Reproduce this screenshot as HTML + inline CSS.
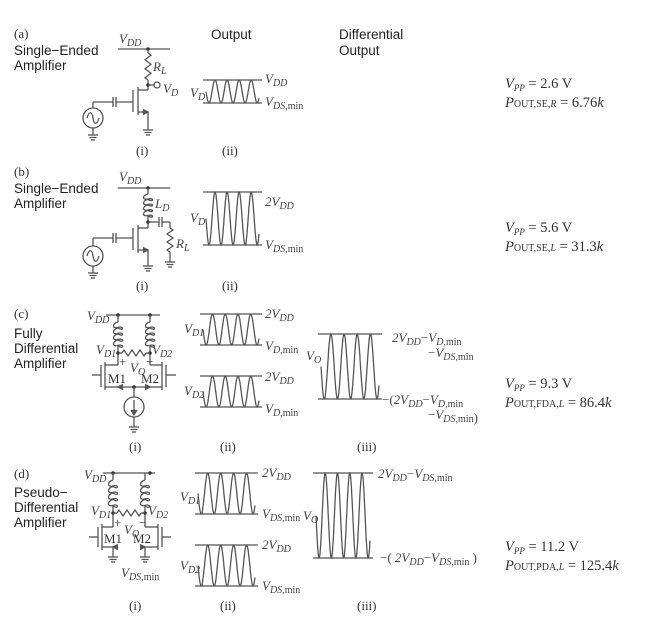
<!DOCTYPE html>
<html><head><meta charset="utf-8"><style>
html,body{margin:0;padding:0;background:#fff;}
svg{display:block;}
.s{font-family:"Liberation Sans",sans-serif;font-size:13.5px;fill:#222;}
.r{font-family:"Liberation Serif",serif;font-size:13px;fill:#333;}
.i{font-family:"Liberation Serif",serif;font-style:italic;font-size:13px;fill:#444;}
.b{font-family:"Liberation Serif",serif;font-size:14.5px;fill:#333;}
</style></head><body>
<svg id="sv" width="654" height="621" viewBox="0 0 654 621" xmlns="http://www.w3.org/2000/svg">
<g id="shapes" fill="none" stroke="#555" stroke-width="1.3"></g>
<!-- text -->
<text class="r" x="14" y="38">(a)</text>
<text class="s" x="14" y="55">Single−Ended</text>
<text class="s" x="14" y="70">Amplifier</text>
<text class="s" x="211" y="39">Output</text>
<text class="s" x="339" y="39">Differential</text>
<text class="s" x="339" y="55">Output</text>

<text class="i" x="119" y="43">V<tspan font-size="10" dy="3">DD</tspan></text>
<text class="i" x="153" y="71">R<tspan font-size="10" dy="3">L</tspan></text>
<text class="i" x="163" y="93">V<tspan font-size="10" dy="3">D</tspan></text>
<text class="i" x="190" y="97">V<tspan font-size="10" dy="3">D</tspan></text>
<text class="i" x="265" y="83">V<tspan font-size="10" dy="3">DD</tspan></text>
<text class="i" x="265" y="106">V<tspan font-size="10" dy="3">DS,</tspan><tspan font-style="normal" font-size="10">min</tspan></text>
<text class="r" x="136" y="155">(i)</text>
<text class="r" x="222" y="155">(ii)</text>

<text class="r" x="14" y="176">(b)</text>
<text class="s" x="14" y="193">Single−Ended</text>
<text class="s" x="14" y="208">Amplifier</text>
<text class="i" x="119" y="181">V<tspan font-size="10" dy="3">DD</tspan></text>
<text class="i" x="155" y="208">L<tspan font-size="10" dy="3">D</tspan></text>
<text class="i" x="176" y="248">R<tspan font-size="10" dy="3">L</tspan></text>
<text class="i" x="190" y="222">V<tspan font-size="10" dy="3">D</tspan></text>
<text class="i" x="265" y="206">2V<tspan font-size="10" dy="3">DD</tspan></text>
<text class="i" x="265" y="249">V<tspan font-size="10" dy="3">DS,</tspan><tspan font-style="normal" font-size="10">min</tspan></text>
<text class="r" x="136" y="290">(i)</text>
<text class="r" x="222" y="290">(ii)</text>

<text class="r" x="14" y="318">(c)</text>
<text class="s" x="14" y="338">Fully</text>
<text class="s" x="14" y="353">Differential</text>
<text class="s" x="14" y="368">Amplifier</text>
<text class="i" x="87" y="320">V<tspan font-size="10" dy="3">DD</tspan></text>
<text class="i" x="96" y="354">V<tspan font-size="10" dy="3">D1</tspan></text>
<text class="i" x="152" y="354">V<tspan font-size="10" dy="3">D2</tspan></text>
<text class="r" x="119" y="366" font-size="11">+</text>
<text class="r" x="146" y="366" font-size="11">−</text>
<text class="i" x="130" y="372">V<tspan font-size="10" dy="3">O</tspan></text>
<text class="r" x="108" y="383" font-size="11">M1</text>
<text class="r" x="141" y="383" font-size="11">M2</text>
<text class="i" x="184" y="333">V<tspan font-size="10" dy="3">D1</tspan></text>
<text class="i" x="184" y="395">V<tspan font-size="10" dy="3">D2</tspan></text>
<text class="i" x="265" y="318">2V<tspan font-size="10" dy="3">DD</tspan></text>
<text class="i" x="265" y="350">V<tspan font-size="10" dy="3">D,</tspan><tspan font-style="normal" font-size="10">min</tspan></text>
<text class="i" x="265" y="381">2V<tspan font-size="10" dy="3">DD</tspan></text>
<text class="i" x="265" y="413">V<tspan font-size="10" dy="3">D,</tspan><tspan font-style="normal" font-size="10">min</tspan></text>
<text class="i" x="306" y="360">V<tspan font-size="10" dy="3">O</tspan></text>
<text class="i" x="392" y="342">2V<tspan font-size="10" dy="3">DD</tspan><tspan dy="-3" font-style="normal">−</tspan>V<tspan font-size="10" dy="3">D,</tspan><tspan font-style="normal" font-size="10">min</tspan></text>
<text class="i" x="428" y="357"><tspan font-style="normal">−</tspan>V<tspan font-size="10" dy="3">DS,</tspan><tspan font-style="normal" font-size="10">min</tspan></text>
<text class="i" x="382" y="404"><tspan font-style="normal">−(</tspan>2V<tspan font-size="10" dy="3">DD</tspan><tspan dy="-3" font-style="normal">−</tspan>V<tspan font-size="10" dy="3">D,</tspan><tspan font-style="normal" font-size="10">min</tspan></text>
<text class="i" x="428" y="419"><tspan font-style="normal">−</tspan>V<tspan font-size="10" dy="3">DS,</tspan><tspan font-style="normal" font-size="10">min</tspan><tspan font-style="normal">)</tspan></text>
<text class="r" x="129" y="451">(i)</text>
<text class="r" x="220" y="451">(ii)</text>
<text class="r" x="357" y="451">(iii)</text>

<text class="r" x="14" y="478">(d)</text>
<text class="s" x="14" y="497">Pseudo−</text>
<text class="s" x="14" y="512">Differential</text>
<text class="s" x="14" y="527">Amplifier</text>
<text class="i" x="84" y="479">V<tspan font-size="10" dy="3">DD</tspan></text>
<text class="i" x="91" y="515">V<tspan font-size="10" dy="3">D1</tspan></text>
<text class="i" x="148" y="515">V<tspan font-size="10" dy="3">D2</tspan></text>
<text class="r" x="114" y="527" font-size="11">+</text>
<text class="r" x="139" y="527" font-size="11">−</text>
<text class="i" x="124" y="534">V<tspan font-size="10" dy="3">O</tspan></text>
<text class="r" x="104" y="543" font-size="11">M1</text>
<text class="r" x="133" y="543" font-size="11">M2</text>
<text class="i" x="121" y="577">V<tspan font-size="10" dy="3">DS,</tspan><tspan font-style="normal" font-size="10">min</tspan></text>
<text class="i" x="180" y="501">V<tspan font-size="10" dy="3">D1</tspan></text>
<text class="i" x="180" y="570">V<tspan font-size="10" dy="3">D2</tspan></text>
<text class="i" x="262" y="477">2V<tspan font-size="10" dy="3">DD</tspan></text>
<text class="i" x="262" y="518">V<tspan font-size="10" dy="3">DS,</tspan><tspan font-style="normal" font-size="10">min</tspan></text>
<text class="i" x="262" y="549">2V<tspan font-size="10" dy="3">DD</tspan></text>
<text class="i" x="262" y="590">V<tspan font-size="10" dy="3">DS,</tspan><tspan font-style="normal" font-size="10">min</tspan></text>
<text class="i" x="303" y="520">V<tspan font-size="10" dy="3">O</tspan></text>
<text class="i" x="378" y="478">2V<tspan font-size="10" dy="3">DD</tspan><tspan dy="-3" font-style="normal">−</tspan>V<tspan font-size="10" dy="3">DS,</tspan><tspan font-style="normal" font-size="10">min</tspan></text>
<text class="i" x="380" y="562"><tspan font-style="normal">−( </tspan>2V<tspan font-size="10" dy="3">DD</tspan><tspan dy="-3" font-style="normal">−</tspan>V<tspan font-size="10" dy="3">DS,</tspan><tspan font-style="normal" font-size="10">min</tspan><tspan font-style="normal" dy="-3"> )</tspan></text>
<text class="r" x="129" y="610">(i)</text>
<text class="r" x="220" y="610">(ii)</text>
<text class="r" x="357" y="610">(iii)</text>

<text class="b" x="505" y="88"><tspan font-style="italic">V</tspan><tspan font-size="9" dy="3" font-style="italic">PP</tspan><tspan dy="-3"> = 2.6 V</tspan></text>
<text class="b" x="505" y="107"><tspan font-style="italic">P</tspan><tspan font-size="10">OUT,SE,</tspan><tspan font-size="10" font-style="italic">R</tspan> = 6.76<tspan font-style="italic">k</tspan></text>
<text class="b" x="505" y="232"><tspan font-style="italic">V</tspan><tspan font-size="9" dy="3" font-style="italic">PP</tspan><tspan dy="-3"> = 5.6 V</tspan></text>
<text class="b" x="505" y="251"><tspan font-style="italic">P</tspan><tspan font-size="10">OUT,SE,</tspan><tspan font-size="10" font-style="italic">L</tspan> = 31.3<tspan font-style="italic">k</tspan></text>
<text class="b" x="505" y="388"><tspan font-style="italic">V</tspan><tspan font-size="9" dy="3" font-style="italic">PP</tspan><tspan dy="-3"> = 9.3 V</tspan></text>
<text class="b" x="505" y="407"><tspan font-style="italic">P</tspan><tspan font-size="10">OUT,FDA,</tspan><tspan font-size="10" font-style="italic">L</tspan> = 86.4<tspan font-style="italic">k</tspan></text>
<text class="b" x="505" y="551"><tspan font-style="italic">V</tspan><tspan font-size="9" dy="3" font-style="italic">PP</tspan><tspan dy="-3"> = 11.2 V</tspan></text>
<text class="b" x="505" y="570"><tspan font-style="italic">P</tspan><tspan font-size="10">OUT,PDA,</tspan><tspan font-size="10" font-style="italic">L</tspan> = 125.4<tspan font-style="italic">k</tspan></text>
</svg>
<script>
var g=document.getElementById('shapes'),NS='http://www.w3.org/2000/svg',out='';
function P(d,extra){out+='<path d="'+d+'" '+(extra||'')+'/>';}
function L(x1,y1,x2,y2){P('M'+x1+' '+y1+'L'+x2+' '+y2);}
function dot(x,y){out+='<circle cx="'+x+'" cy="'+y+'" r="1.8" fill="#333" stroke="none"/>';}
function circ(x,y,r){out+='<circle cx="'+x+'" cy="'+y+'" r="'+r+'"/>';}
function gnd(x,y){L(x,y-6,x,y);L(x-5,y,x+5,y);L(x-3.5,y+2.5,x+3.5,y+2.5);L(x-2,y+5,x+2,y+5);}
function res(x,y1,y2){var d='M'+x+' '+y1,n=6,h=(y2-y1)/n;for(var i=0;i<n;i++){d+='L'+(x+(i%2?-3:3))+' '+(y1+h*(i+0.5));}d+='L'+x+' '+y2;P(d);}
function hres(x1,x2,y){var d='M'+x1+' '+y,n=6,w=(x2-x1)/n;for(var i=0;i<n;i++){d+='L'+(x1+w*(i+0.5))+' '+(y+(i%2?3:-3));}d+='L'+x2+' '+y;P(d);}
function ind(x,y1,y2){var n=4,h=(y2-y1)/n,d='M'+x+' '+y1;for(var i=0;i<n;i++){var a=y1+i*h;d+='C'+(x-6)+' '+(a+h*0.2)+' '+(x-6)+' '+(a+h*1.2)+' '+x+' '+(a+h*0.9)+'C'+(x+6)+' '+(a+h*0.6)+' '+(x+6)+' '+(a+h*1.6)+' '+x+' '+(a+h);}P(d);}
function wave(x0,x1,yt,yb,per){var d='',m=(yt+yb)/2,A=(yb-yt)/2;for(var i=0;i<=200;i++){var t=i/200,x=x0+(x1-x0)*t,y=m+A*Math.sin(t*per*2*Math.PI);d+=(i?'L':'M')+x.toFixed(1)+' '+y.toFixed(1);}P(d);}
function box(x0,x1,yt,yb,per){L(x0,yt,x1,yt);L(x0,yb,x1,yb);wave(x0+3,x1-3,yt,yb,per);}
function acsrc(x,y){circ(x,y,10);P('M'+(x-6)+' '+y+'C'+(x-4)+' '+(y-7)+' '+(x-1)+' '+(y-7)+' '+x+' '+y+'C'+(x+1)+' '+(y+7)+' '+(x+4)+' '+(y+7)+' '+(x+6)+' '+y);}
function nmos(dx,chx,gx,yd,ys,gy,gl,dir){ // single transistor
 L(chx,yd-3,chx,ys+3);L(gx,yd,gx,ys);L(gl,gy,gx,gy);L(chx,yd,dx,yd);L(chx,ys,dx,ys);
 P('M'+(dx-5*dir)+' '+(ys-2.5)+'L'+dx+' '+ys+'L'+(dx-5*dir)+' '+(ys+2.5),'fill="#555"');}
// (a)
L(118,49,170,49);dot(148,49);res(148,53,80);L(148,49,148,53);L(148,80,148,90);dot(148,85);L(148,85,154,85);circ(157,85,3);
nmos(148,138,133,90,112,102,116,1);L(148,112,148,124);gnd(148,130);
L(93,102,113,102);L(113,97,113,107);L(116,97,116,107);L(93,102,93,108);acsrc(93,118);L(93,128,93,130);gnd(93,135);
box(203,262,80,103,4.4);
// (b)
L(118,188,170,188);dot(148,188);L(148,188,148,194);ind(148,194,216);L(148,216,148,228);dot(148,222);
L(148,222,159,222);L(159,217,159,227);L(162,217,162,227);L(162,222,170,222);L(170,222,170,228);res(170,228,252);L(170,252,170,256);gnd(170,262);
nmos(148,138,133,228,250,238,116,1);L(148,250,148,260);gnd(148,266);
L(93,238,113,238);L(113,233,113,243);L(116,233,116,243);L(93,238,93,246);acsrc(93,256);L(93,266,93,268);gnd(93,273);
box(203,262,192,245,4.4);
// (c)
L(106,315,160,315);dot(118,315);dot(150,315);L(118,315,118,322);L(150,315,150,322);ind(118,322,346);ind(150,322,346);L(118,346,118,365);L(150,346,150,365);
dot(118,353);dot(150,353);hres(122,146,353);L(118,353,122,353);L(146,353,150,353);
nmos(118,105,101,365,387,375,92,-1);nmos(150,162,166,365,387,375,176,1);
L(118,387,150,387);dot(134,387);L(134,387,134,397);circ(134,407,10);L(134,400,134,414);P('M131 410L134 415L137 410','fill="#555"');L(134,417,134,421);gnd(134,427);
box(200,262,314,345,4.4);box(200,262,376,407,4.4);
box(318,382,334,399,4.4);
// (d)
L(103,473,155,473);dot(113,473);dot(150,473);L(113,473,113,480);L(145,473,145,480);ind(113,480,506);ind(145,480,506);L(113,506,113,527);L(145,506,145,527);
dot(113,513);dot(145,513);hres(117,141,513);L(113,513,117,513);L(141,513,145,513);
nmos(113,102,98,527,547,537,89,-1);nmos(145,158,162,527,547,537,171,1);
L(113,547,113,551);gnd(113,557);L(145,547,145,551);gnd(145,557);
box(195,258,473,514,4.4);box(195,258,545,586,4.4);
box(313,373,473,558,4.4);
g.innerHTML=out;
</script>
</body></html>
